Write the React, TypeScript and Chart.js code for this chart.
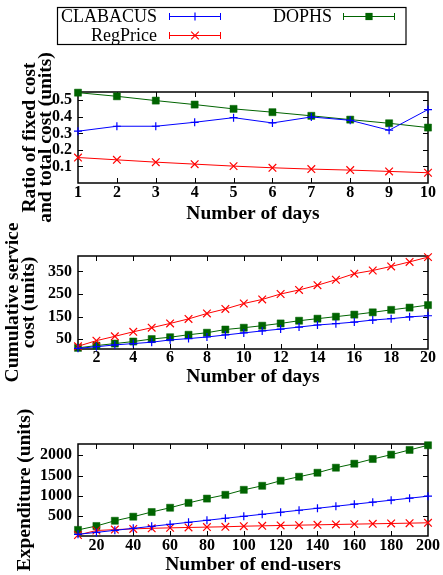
import React, { useEffect, useRef } from 'react';
import { Chart, registerables } from 'chart.js';

Chart.register(...registerables);

// ---------- data ----------
const SERIES_NAMES = ['CLABACUS', 'RegPrice', 'DOPHS'];
const SERIES_COLORS = ['#0000ff', '#ff0000', '#006400'];
const SERIES_POINTS = ['cross', 'crossRot', 'rect'];

const DAYS_10 = [1, 2, 3, 4, 5, 6, 7, 8, 9, 10];
const RATIO_CLABACUS = [0.313, 0.343, 0.343, 0.367, 0.395, 0.363, 0.399, 0.379, 0.319, 0.444];
const RATIO_REGPRICE = [0.154, 0.140, 0.126, 0.114, 0.102, 0.092, 0.084, 0.078, 0.070, 0.062];
const RATIO_DOPHS = [0.546, 0.524, 0.498, 0.474, 0.448, 0.428, 0.406, 0.383, 0.361, 0.335];
const RATIO_X_TICKS = [1, 2, 3, 4, 5, 6, 7, 8, 9, 10];
const RATIO_Y_TICKS = [0.1, 0.2, 0.3, 0.4, 0.5];

const DAYS_20 = [1, 2, 3, 4, 5, 6, 7, 8, 9, 10, 11, 12, 13, 14, 15, 16, 17, 18, 19, 20];
const COST_CLABACUS = [10, 17, 25, 31, 37, 47, 53, 60, 69, 78, 87, 95, 104, 113, 119, 126, 135, 141, 149, 154];
const COST_REGPRICE = [19, 44, 63, 83, 101, 120, 140, 164, 184, 208, 226, 250, 268, 289, 313, 340, 354, 372, 392, 413];
const COST_DOPHS = [12, 22, 31, 40, 51, 59, 70, 79, 93, 101, 110, 120, 132, 141, 150, 159, 169, 180, 190, 201];
const COST_X_TICKS = [2, 4, 6, 8, 10, 12, 14, 16, 18, 20];
const COST_Y_TICKS = [50, 150, 250, 350];

const END_USERS = [10, 20, 30, 40, 50, 60, 70, 80, 90, 100, 110, 120, 130, 140, 150, 160, 170, 180, 190, 200];
const EXP_CLABACUS = [57, 104, 154, 203, 253, 302, 352, 401, 451, 500, 549, 599, 648, 697, 747, 797, 846, 896, 945, 994];
const EXP_REGPRICE = [40, 150, 172, 190, 205, 215, 225, 234, 242, 256, 265, 274, 282, 290, 299, 307, 315, 323, 331, 340];
const EXP_DOPHS = [165, 261, 390, 490, 605, 710, 830, 935, 1028, 1151, 1250, 1374, 1473, 1571, 1695, 1794, 1909, 2016, 2132, 2247];
const EXP_X_TICKS = [20, 40, 60, 80, 100, 120, 140, 160, 180, 200];
const EXP_Y_TICKS = [500, 1000, 1500, 2000];

// ---------- layout / style ----------
const W = 443;
const H = 575;
const FONT = "'Liberation Serif', 'Times New Roman', Times, serif";

const PANELS = [
  {
    xs: DAYS_10, ys: [RATIO_CLABACUS, RATIO_REGPRICE, RATIO_DOPHS],
    xMin: 1, xMax: 10, yMin: 0, yMax: 0.55,
    xTicks: RATIO_X_TICKS, yTicks: RATIO_Y_TICKS, yFmt: (v: number) => v.toFixed(1),
    xTitle: 'Number of days', yTitle: ['Ratio of fixed cost', 'and total cost (units)'],
    top: 92, bottom: 183, xH: 41, xTickPad: 2, yTitlePad: 21.5, legend: true,
  },
  {
    xs: DAYS_20, ys: [COST_CLABACUS, COST_REGPRICE, COST_DOPHS],
    xMin: 1, xMax: 20, yMin: 7, yMax: 418,
    xTicks: COST_X_TICKS, yTicks: COST_Y_TICKS, yFmt: (v: number) => String(v),
    xTitle: 'Number of days', yTitle: ['Cumulative service', 'cost (units)'],
    top: 256, bottom: 349, xH: 38, xTickPad: 1, yTitlePad: 4.5, legend: false,
  },
  {
    xs: END_USERS, ys: [EXP_CLABACUS, EXP_REGPRICE, EXP_DOPHS],
    xMin: 10, xMax: 200, yMin: 15, yMax: 2278,
    xTicks: EXP_X_TICKS, yTicks: EXP_Y_TICKS, yFmt: (v: number) => String(v),
    xTitle: 'Number of end-users', yTitle: 'Expenditure (units)',
    top: 444, bottom: 536, xH: 39, xTickPad: 2, yTitlePad: 16.5, legend: false,
  },
];

const framePlugin = {
  id: 'gpFrame',
  beforeDatasetsDraw(chart: any) {
    const { ctx, chartArea: a, scales } = chart;
    const tl = 5;
    ctx.save();
    ctx.strokeStyle = '#000';
    ctx.lineWidth = 1;
    ctx.beginPath();
    scales.x.ticks.forEach((t: any) => {
      const px = Math.round(scales.x.getPixelForValue(t.value)) + 0.5;
      if (px <= a.left + 1 || px >= a.right - 1) return;
      ctx.moveTo(px, a.bottom);
      ctx.lineTo(px, a.bottom - tl);
      ctx.moveTo(px, a.top);
      ctx.lineTo(px, a.top + tl);
    });
    scales.y.ticks.forEach((t: any) => {
      const py = Math.round(scales.y.getPixelForValue(t.value)) + 0.5;
      if (py <= a.top + 1 || py >= a.bottom - 1) return;
      ctx.moveTo(a.left, py);
      ctx.lineTo(a.left + tl, py);
      ctx.moveTo(a.right, py);
      ctx.lineTo(a.right - tl, py);
    });
    ctx.stroke();
    ctx.lineWidth = 1.5;
    ctx.strokeRect(a.left, a.top, a.right - a.left, a.bottom - a.top);
    ctx.restore();
  },
};

function drawMarker(ctx: CanvasRenderingContext2D, style: string, x: number, y: number, color: string) {
  ctx.save();
  ctx.strokeStyle = color;
  ctx.fillStyle = color;
  ctx.lineWidth = 1.2;
  ctx.beginPath();
  if (style === 'cross') {
    ctx.moveTo(x - 4, y); ctx.lineTo(x + 4, y);
    ctx.moveTo(x, y - 4); ctx.lineTo(x, y + 4);
    ctx.stroke();
  } else if (style === 'crossRot') {
    ctx.moveTo(x - 3.8, y - 3.8); ctx.lineTo(x + 3.8, y + 3.8);
    ctx.moveTo(x + 3.8, y - 3.8); ctx.lineTo(x - 3.8, y + 3.8);
    ctx.stroke();
  } else {
    ctx.fillRect(x - 3.6, y - 3.6, 7.2, 7.2);
  }
  ctx.restore();
}

const legendPlugin = {
  id: 'gpLegend',
  afterDraw(chart: any) {
    const ctx = chart.ctx as CanvasRenderingContext2D;
    ctx.save();
    ctx.strokeStyle = '#000';
    ctx.lineWidth = 1.2;
    ctx.strokeRect(57.5, 7.5, 348.5, 37);
    const slots = [
      { tx: 157, y: 16, x0: 169, x1: 221 },
      { tx: 157, y: 35, x0: 169, x1: 221 },
      { tx: 332, y: 16, x0: 343, x1: 395 },
    ];
    ctx.font = `18px ${FONT}`;
    ctx.textAlign = 'right';
    ctx.textBaseline = 'middle';
    SERIES_NAMES.forEach((name, i) => {
      const s = slots[i];
      const c = SERIES_COLORS[i];
      ctx.fillStyle = '#000';
      ctx.fillText(name, s.tx, s.y + 1);
      ctx.strokeStyle = c;
      ctx.lineWidth = 1;
      ctx.beginPath();
      ctx.moveTo(s.x0, s.y + 0.5); ctx.lineTo(s.x1, s.y + 0.5);
      ctx.moveTo(s.x0 + 0.5, s.y - 3); ctx.lineTo(s.x0 + 0.5, s.y + 4);
      ctx.moveTo(s.x1 - 0.5, s.y - 3); ctx.lineTo(s.x1 - 0.5, s.y + 4);
      ctx.stroke();
      drawMarker(ctx, SERIES_POINTS[i], (s.x0 + s.x1) / 2, s.y + 0.5, c);
    });
    ctx.restore();
  },
};

function makeConfig(p: any): any {
  const tickFont = { family: FONT, size: 16, weight: 'bold', lineHeight: 1 };
  const titleFont = { family: FONT, size: 19.5, weight: 'bold', lineHeight: 16 / 19.5 };
  const xTitleFont = { family: FONT, size: 19.5, weight: 'bold', lineHeight: 1 };
  return {
    type: 'line',
    data: {
      datasets: SERIES_NAMES.map((name, i) => ({
        label: name,
        data: p.xs.map((x: number, j: number) => ({ x, y: p.ys[i][j] })),
        borderColor: SERIES_COLORS[i],
        backgroundColor: SERIES_COLORS[i],
        borderWidth: 1,
        pointStyle: SERIES_POINTS[i],
        pointRadius: SERIES_POINTS[i] === 'rect' ? 5 : SERIES_POINTS[i] === 'crossRot' ? 5.4 : 4,
        pointBorderWidth: SERIES_POINTS[i] === 'rect' ? 0.5 : 1.2,
        pointBackgroundColor: SERIES_COLORS[i],
        pointBorderColor: SERIES_COLORS[i],
        tension: 0,
        clip: false,
        order: i,
      })),
    },
    options: {
      animation: false,
      responsive: false,
      devicePixelRatio: 1,
      events: [],
      layout: { padding: { left: 0, right: 15, top: p.top, bottom: H - p.bottom - p.xH } },
      plugins: { legend: { display: false }, tooltip: { enabled: false } },
      scales: {
        x: {
          type: 'linear',
          min: p.xMin,
          max: p.xMax,
          afterBuildTicks: (s: any) => { s.ticks = p.xTicks.map((v: number) => ({ value: v })); },
          afterFit: (s: any) => { s.height = p.xH; s.paddingLeft = 0; s.paddingRight = 0; },
          grid: { display: false, drawTicks: false },
          border: { display: false },
          ticks: {
            font: tickFont, color: '#000', padding: p.xTickPad, maxRotation: 0, autoSkip: false,
            callback: (v: number) => String(v),
          },
          title: { display: true, text: p.xTitle, color: '#000', font: xTitleFont, padding: { top: 0, bottom: 0 } },
        },
        y: {
          type: 'linear',
          min: p.yMin,
          max: p.yMax,
          afterBuildTicks: (s: any) => { s.ticks = p.yTicks.map((v: number) => ({ value: v })); },
          afterFit: (s: any) => { s.width = 78; s.paddingTop = 0; s.paddingBottom = 0; },
          grid: { display: false, drawTicks: false },
          border: { display: false },
          ticks: {
            font: tickFont, color: '#000', padding: 6, autoSkip: false,
            callback: (v: number) => p.yFmt(v),
          },
          title: { display: true, text: p.yTitle, color: '#000', font: titleFont, padding: { top: p.yTitlePad, bottom: 0 } },
        },
      },
    },
    plugins: p.legend ? [framePlugin, legendPlugin] : [framePlugin],
  };
}

export default function App() {
  const r0 = useRef<HTMLCanvasElement>(null);
  const r1 = useRef<HTMLCanvasElement>(null);
  const r2 = useRef<HTMLCanvasElement>(null);
  const refs = [r0, r1, r2];

  useEffect(() => {
    const charts = PANELS.map((p, i) => new Chart(refs[i].current as HTMLCanvasElement, makeConfig(p)));
    return () => charts.forEach((c) => c.destroy());
  }, []);

  return (
    <div style={{ position: 'absolute', left: 0, top: 0, width: W, height: H, background: '#fff' }}>
      {refs.map((r, i) => (
        <canvas
          key={i}
          ref={r}
          width={W}
          height={H}
          style={{ position: 'absolute', left: 0, top: 0, width: W, height: H }}
        />
      ))}
    </div>
  );
}
